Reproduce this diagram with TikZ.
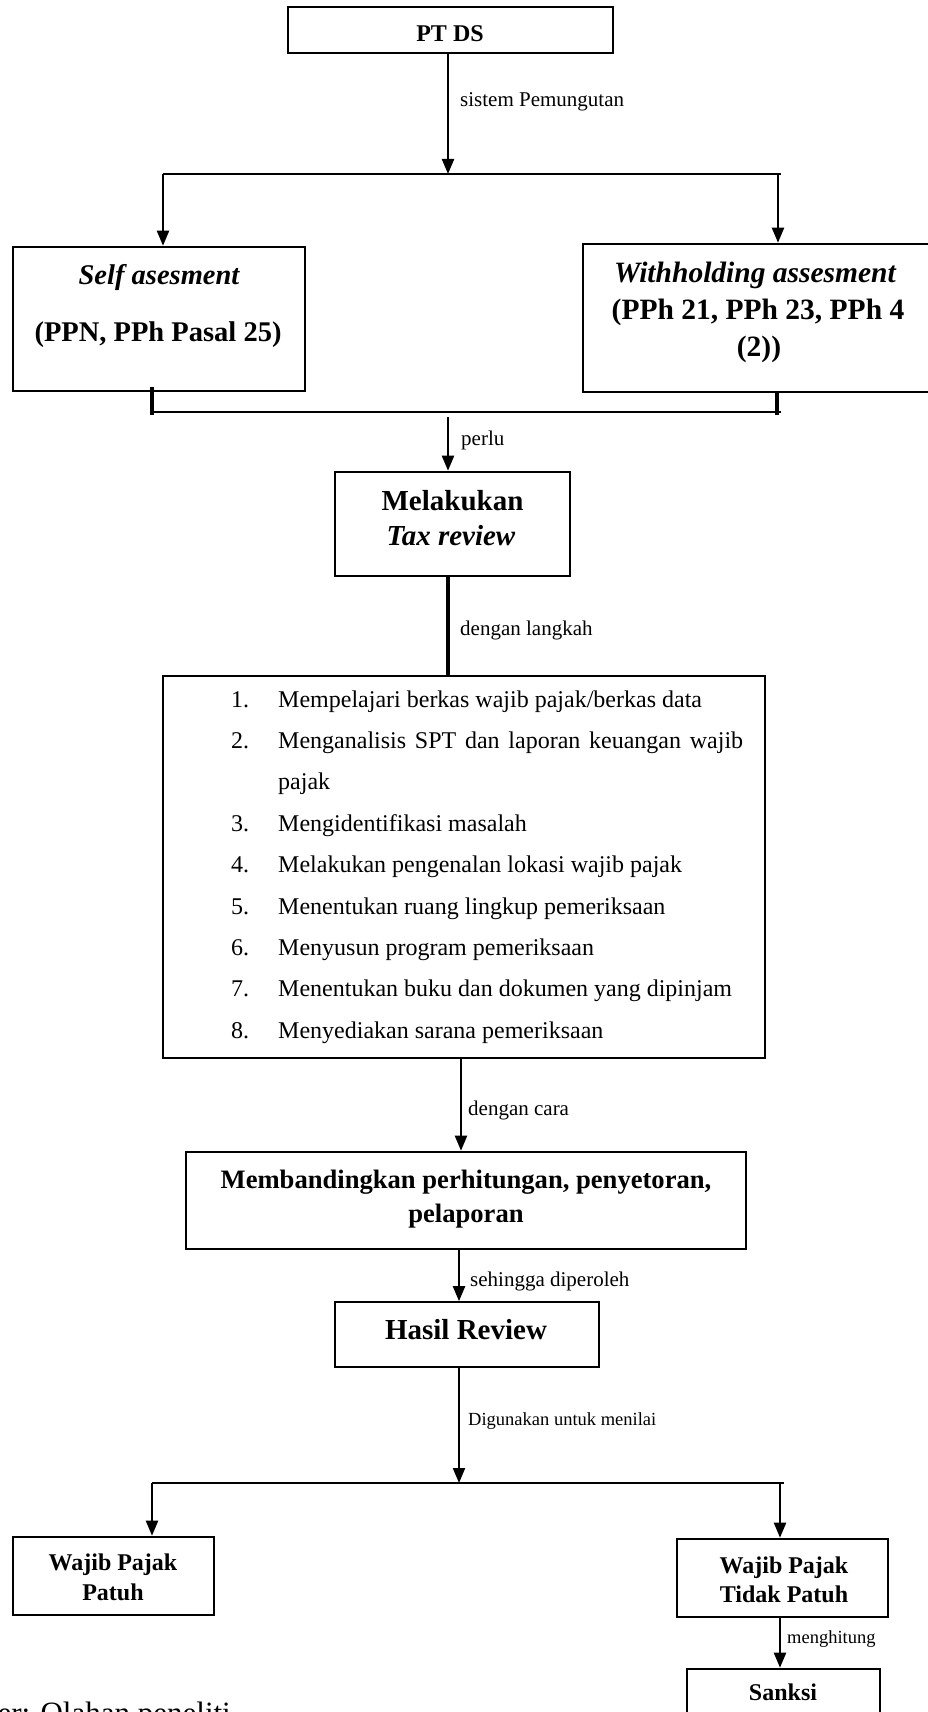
\documentclass[tikz,border=0pt]{standalone}
\usepackage{fontspec}
\setmainfont{Liberation Serif}
\usetikzlibrary{arrows.meta}
\newcommand{\fsz}[1]{\fontsize{#1}{#1}\selectfont}
\begin{document}
\begin{tikzpicture}[x=1pt,y=-1pt,
 box/.style={draw, line width=2.6pt, inner sep=0pt, rectangle},
 thinbox/.style={draw, line width=1.7pt, inner sep=0pt, rectangle},
 arr/.style={line width=2.2pt, -{Triangle[length=15pt,width=12pt]}},
 ln/.style={line width=2pt},
 tickln/.style={line width=3.6pt},
 thk/.style={line width=4.2pt},
 t/.style={anchor=base, inner sep=0pt},
 lbl/.style={anchor=base west, inner sep=0pt, font=\fsz{21}},
 lbls/.style={anchor=base west, inner sep=0pt, font=\fsz{18.5}},
 item/.style={anchor=base west, inner sep=0pt, font=\fsz{24}},
]
\useasboundingbox (0,0) rectangle (927,1712);

% boxes
\node[box, minimum width=325pt, minimum height=46pt] (ptds) at (450.5,30) {};
\node[box, minimum width=292pt, minimum height=144pt] (self) at (159,319) {};
\node[box, minimum width=357pt, minimum height=148pt] (wh) at (761.5,318) {};
\node[box, minimum width=235pt, minimum height=104pt] (mel) at (452.5,524) {};
\node[thinbox, minimum width=602pt, minimum height=382pt] (list) at (464,867) {};
\node[box, minimum width=560pt, minimum height=97pt] (bnd) at (466,1200.5) {};
\node[thinbox, minimum width=264pt, minimum height=65pt] (hasil) at (467,1334.5) {};
\node[box, minimum width=201pt, minimum height=78pt] (wpp) at (113.5,1576) {};
\node[box, minimum width=211pt, minimum height=78pt] (wptp) at (782.5,1578) {};
\node[box, minimum width=193pt, minimum height=91pt] (sanksi) at (783.5,1714.5) {};

% box texts
\node[t, font=\bfseries\fsz{24}] (ptdsT) at (450,41.5) {PT DS};
\node[t, font=\bfseries\itshape\fsz{28.5}] (selfT1) at (159,284) {Self asesment};
\node[t, font=\bfseries\fsz{28.5}] (selfT2) at (158,341) {(PPN, PPh Pasal 25)};
\node[t, font=\bfseries\itshape\fsz{29.5}] (whT1) at (755,282) {Withholding assesment};
\node[t, font=\bfseries\fsz{29.5}] (whT2) at (758,319) {(PPh 21, PPh 23, PPh 4};
\node[t, font=\bfseries\fsz{29.5}] (whT3) at (759,356) {(2))};
\node[t, font=\bfseries\fsz{29}] (melT1) at (452.5,510) {Melakukan};
\node[t, font=\bfseries\itshape\fsz{29}] (melT2) at (451,545) {Tax review};
\node[t, font=\bfseries\fsz{26.6}] (bndT1) at (466,1188) {Membandingkan perhitungan, penyetoran,};
\node[t, font=\bfseries\fsz{26.6}] (bndT2) at (466,1222) {pelaporan};
\node[t, font=\bfseries\fsz{29}] (hasilT) at (466,1339) {Hasil Review};
\node[t, font=\bfseries\fsz{24}] (wppT1) at (113,1570) {Wajib Pajak};
\node[t, font=\bfseries\fsz{24}] (wppT2) at (113,1600) {Patuh};
\node[t, font=\bfseries\fsz{24}] (wptpT1) at (784,1573) {Wajib Pajak};
\node[t, font=\bfseries\fsz{24}] (wptpT2) at (784,1602) {Tidak Patuh};
\node[t, font=\bfseries\fsz{24}] (sanksiT) at (783,1700) {Sanksi};

% list items
\node[item] (n1) at (231,707) {1.};
\node[item] (i1) at (278,707) {Mempelajari berkas wajib pajak/berkas data};
\node[item] (n2) at (231,748.4) {2.};
\node[item] (i2) at (278,748.4) {\makebox[465pt][s]{Menganalisis SPT dan laporan keuangan wajib}};
\node[item] (i2b) at (278,789.8) {pajak};
\node[item] (n3) at (231,831.2) {3.};
\node[item] (i3) at (278,831.2) {Mengidentifikasi masalah};
\node[item] (n4) at (231,872.6) {4.};
\node[item] (i4) at (278,872.6) {Melakukan pengenalan lokasi wajib pajak};
\node[item] (n5) at (231,914) {5.};
\node[item] (i5) at (278,914) {Menentukan ruang lingkup pemeriksaan};
\node[item] (n6) at (231,955.4) {6.};
\node[item] (i6) at (278,955.4) {Menyusun program pemeriksaan};
\node[item] (n7) at (231,996.8) {7.};
\node[item] (i7) at (278,996.8) {Menentukan buku dan dokumen yang dipinjam};
\node[item] (n8) at (231,1038.2) {8.};
\node[item] (i8) at (278,1038.2) {Menyediakan sarana pemeriksaan};

% connector labels
\node[lbl] (l1) at (460,107) {sistem Pemungutan};
\node[lbl] (l2) at (461,445) {perlu};
\node[lbl] (l3) at (460,635) {dengan langkah};
\node[lbl] (l4) at (468,1115) {dengan cara};
\node[lbl] (l5) at (470,1286) {sehingga diperoleh};
\node[lbls] (l6) at (468,1425) {Digunakan untuk menilai};
\node[lbls] (l7) at (787,1643) {menghitung};

% source line (cut off)
\node[anchor=base west, inner sep=0pt, font=\fsz{31}] (src) at (-75,1723) {Sumber: Olahan peneliti};

% coordinates
\coordinate (j1) at (448,174);
\coordinate (jl) at (163,174);
\coordinate (jr) at (778,174);
\coordinate (je) at (781,174);
\coordinate (t1a) at (152,387);
\coordinate (t1b) at (152,415);
\coordinate (t2b) at (777,415);
\coordinate (k1) at (152,412);
\coordinate (k2) at (781,412);
\coordinate (k0) at (448,417);
\coordinate (xa) at (461,1100);
\coordinate (xb) at (459,1280);
\coordinate (j3) at (459,1483);
\coordinate (j3l) at (152,1483);
\coordinate (j3r) at (780,1483);
\coordinate (j3e) at (784,1483);

% connectors
\draw[arr] (ptds.south -| j1) -- (j1);
\draw[ln] (jl) -- (je);
\draw[arr] (jl) -- (self.north -| jl);
\draw[arr] (jr) -- (wh.north -| jr);
\draw[tickln] (t1a) -- (t1b);
\draw[tickln] (wh.south -| t2b) -- (t2b);
\draw[ln] (k1) -- (k2);
\draw[arr] (k0) -- (mel.north -| k0);
\draw[thk] (mel.south -| k0) -- (list.north -| k0);
\draw[arr] (list.south -| xa) -- (bnd.north -| xa);
\draw[arr] (bnd.south -| xb) -- (hasil.north -| xb);
\draw[arr] (hasil.south -| j3) -- (j3);
\draw[ln] (j3l) -- (j3e);
\draw[arr] (j3l) -- (wpp.north -| j3l);
\draw[arr] (j3r) -- (wptp.north -| j3r);
\draw[arr] (wptp.south -| j3r) -- (sanksi.north -| j3r);
\end{tikzpicture}
\end{document}
